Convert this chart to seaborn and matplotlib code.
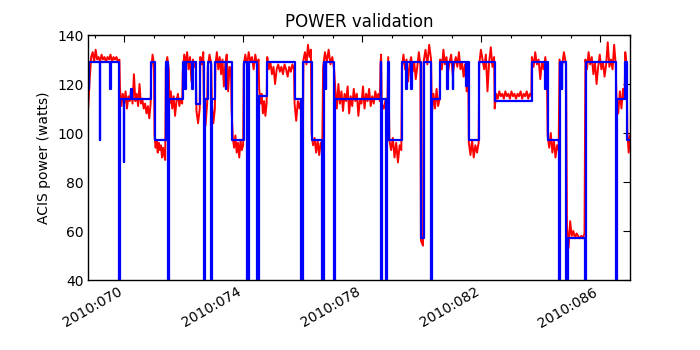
"""
POWER validation: ACIS power, telemetry (red) vs model (blue).
Saves out.png (700x350).
"""

import numpy as np
import pandas as pd
import matplotlib
matplotlib.use("Agg")
import matplotlib.pyplot as plt
from matplotlib.ticker import FixedLocator, FuncFormatter
import seaborn as sns


# Model (blue): step function, (day of 2010, watts). 0 = drop off the bottom of the plot.
model_day = [68.78, 68.80, 69.17, 69.19, 69.52, 69.54, 69.83, 69.86, 69.97, 69.99,
             70.22, 70.24, 70.90, 71.01, 71.39, 71.48, 71.51, 71.96, 72.04, 72.06,
             72.27, 72.29, 72.42, 72.55, 72.66, 72.70, 72.80, 72.91, 72.96, 73.06,
             73.41, 73.43, 73.60, 74.01, 74.12, 74.20, 74.45, 74.53, 74.80, 75.72,
             75.95, 75.99, 76.29, 76.65, 76.70, 76.77, 76.79, 77.05, 77.09, 78.61,
             78.64, 78.66, 78.80, 78.82, 78.87, 78.91, 79.33, 79.47, 79.49, 79.64,
             79.66, 79.97, 80.06, 80.32, 80.35, 80.62, 80.86, 80.88, 81.04, 81.06,
             81.49, 81.51, 81.59, 81.93, 82.45, 83.70, 84.14, 84.16, 84.23, 84.60,
             84.65, 84.70, 84.72, 84.85, 84.90, 85.47, 85.51, 86.53, 86.56, 86.84,
             86.91, 87.01]
model_watts = [118, 129, 97, 129, 118, 129, 0, 114, 88, 114,
               118, 114, 129, 97, 129, 0, 114, 129, 118, 129,
               118, 129, 112, 129, 0, 114, 129, 0, 114, 129,
               118, 129, 97, 129, 0, 129, 0, 115, 129, 114,
               0, 129, 97, 0, 129, 118, 129, 0, 114, 129,
               0, 114, 0, 97, 129, 97, 129, 118, 129, 118,
               129, 57, 129, 0, 114, 129, 118, 129, 118, 129,
               119, 129, 97, 129, 113, 129, 118, 129, 97, 0,
               129, 118, 129, 0, 57, 0, 129, 0, 114, 129,
               97, 97]

# Telemetry (red): one chunk per model state, start/end day and the sampled watts.
tlm_start = [68.78, 69.85, 70.90, 71.01, 71.39, 71.51, 71.96, 72.42, 72.55, 72.67,
             72.80, 72.94, 73.06, 73.60, 74.01, 74.53, 74.80, 75.72, 75.97, 76.29,
             76.68, 77.09, 78.61, 78.65, 78.82, 78.87, 78.91, 79.33, 79.97, 80.06,
             80.34, 80.62, 81.58, 81.93, 82.45, 83.70, 84.23, 84.63, 84.88, 85.50,
             86.55, 86.84, 86.91]
tlm_end = [69.83, 70.88, 70.99, 71.37, 71.49, 71.94, 72.40, 72.53, 72.65, 72.78,
           72.92, 73.04, 73.58, 73.99, 74.51, 74.78, 75.70, 75.94, 76.27, 76.65,
           77.05, 78.59, 78.63, 78.79, 78.85, 78.89, 79.31, 79.95, 80.04, 80.31,
           80.60, 81.56, 81.91, 82.43, 83.68, 84.21, 84.60, 84.85, 85.47, 86.52,
           86.82, 86.89, 87.00]
tlm_watts = [
    [110, 122, 131, 133, 129, 134, 130, 131, 129, 132, 130, 131, 129, 131, 130, 132, 129, 131, 130, 131, 129, 130],
    [118, 111, 116, 112, 117, 110, 115, 113, 118, 112, 124, 113, 116, 111, 120, 112, 114, 110, 112, 108, 111, 106, 112],
    [126, 132, 128],
    [99, 94, 97, 92, 96, 93, 95, 90, 94, 91, 89],
    [127, 131, 126],
    [112, 117, 110, 115, 107, 113, 116, 111, 114, 112],
    [125, 132, 128, 133, 126, 131, 121, 130, 127, 129],
    [109, 104, 110],
    [131, 128, 133],
    [110, 103, 112],
    [127, 132, 128],
    [112, 104, 110],
    [128, 133, 126, 131, 124, 130, 119, 128, 132, 117, 127, 126],
    [110, 98, 94, 99, 92, 96, 90, 97, 93, 95],
    [128, 132, 127, 133, 129, 131, 126, 132, 128, 130],
    [118, 112, 116, 108, 113, 107, 112],
    [131, 126, 129, 124, 127, 120, 126, 128, 125, 127, 124, 128, 126, 123, 127, 125, 128, 126],
    [112, 105, 113, 110, 114],
    [52, 130, 133, 128, 136, 131, 134],
    [100, 95, 98, 92, 97, 91, 96, 94],
    [127, 133, 129, 134, 128, 131, 126],
    [118, 110, 120, 112, 117, 109, 116, 113, 119, 108, 115, 111, 118, 113, 116,
     107, 114, 112, 119, 110, 116, 113, 118, 111, 115, 112, 117, 114, 116, 113],
    [128, 132],
    [112, 110, 114],
    [98],
    [131],
    [97, 93, 98, 90, 96, 88, 95, 93],
    [127, 132, 126, 130, 121, 128, 131, 125, 129, 122, 127, 133, 128],
    [56, 54],
    [129, 134, 128, 136, 130],
    [108, 116, 110, 118, 111, 114],
    [130, 126, 134, 128, 131, 125, 129, 132, 124, 128, 131, 127, 133, 126, 129, 123, 128, 117, 126],
    [96, 91, 97, 90, 95, 92, 96],
    [128, 134, 130, 126, 132, 117, 129, 135, 127, 131],
    [110, 116, 114, 117, 115, 116, 114, 117, 115, 116, 114, 117, 115, 116, 114,
     116, 115, 117, 114, 116, 115, 117, 114, 116, 115],
    [131, 127, 133, 128, 130, 122, 129, 126, 131, 120],
    [99, 94, 100, 92, 97, 90, 95, 93],
    [130, 126, 133, 128],
    [62, 53, 64, 58, 60, 57, 59, 58, 57, 58, 57, 59],
    [130, 126, 133, 128, 131, 124, 129, 120, 127, 132, 126, 129, 123, 128, 137, 127, 130, 126, 136, 128],
    [112, 108, 117, 110, 118, 114],
    [133, 127],
    [101, 92, 99],
]

major_days = [70, 74, 78, 82, 86]
minor_days = list(range(69, 88))


# Telemetry table: sample times spread over each chunk
tlm = pd.concat(
    [pd.DataFrame({"day": np.linspace(t0, t1, len(w)), "watts": w})
     for t0, t1, w in zip(tlm_start, tlm_end, tlm_watts)],
    ignore_index=True,
)
model = pd.DataFrame({"day": model_day, "watts": model_watts})

sns.set_style("white")
plt.rcParams["font.family"] = ["DejaVu Sans"]
plt.rcParams["text.color"] = "black"
plt.rcParams["axes.labelcolor"] = "black"
plt.rcParams["xtick.direction"] = "in"
plt.rcParams["ytick.direction"] = "in"

fig = plt.figure(figsize=(7, 3.5), dpi=100)
ax = fig.add_axes([0.126, 0.2, 0.774, 0.7])

sns.lineplot(data=tlm, x="day", y="watts", ax=ax, color="red", linewidth=1.4,
             estimator=None, sort=False)
sns.lineplot(data=model, x="day", y="watts", ax=ax, color="blue", linewidth=1.6,
             estimator=None, sort=False, drawstyle="steps-post")

ax.set_xlim(68.78, 87.0)
ax.set_ylim(40, 140)
ax.xaxis.set_major_locator(FixedLocator(major_days))
ax.xaxis.set_minor_locator(FixedLocator(minor_days))
ax.xaxis.set_major_formatter(FuncFormatter(lambda d, pos: f"2010:{int(round(d)):03d}"))
ax.set_yticks([40, 60, 80, 100, 120, 140])
ax.tick_params(axis="both", which="both", top=True, right=True, labelsize=10, colors="black")
ax.tick_params(axis="both", which="major", length=5, width=0.8)
ax.tick_params(axis="x", which="minor", length=2.5, width=0.8)
for lab in ax.get_xticklabels():
    lab.set_rotation(30)
    lab.set_ha("right")
for s in ax.spines.values():
    s.set_color("black")
    s.set_linewidth(1.0)

ax.set_xlabel("")
ax.set_ylabel("ACIS power (watts)", fontsize=10, color="black")
ax.set_title("POWER validation", fontsize=12, color="black")

plt.savefig("out.png", dpi=100)
plt.close()
